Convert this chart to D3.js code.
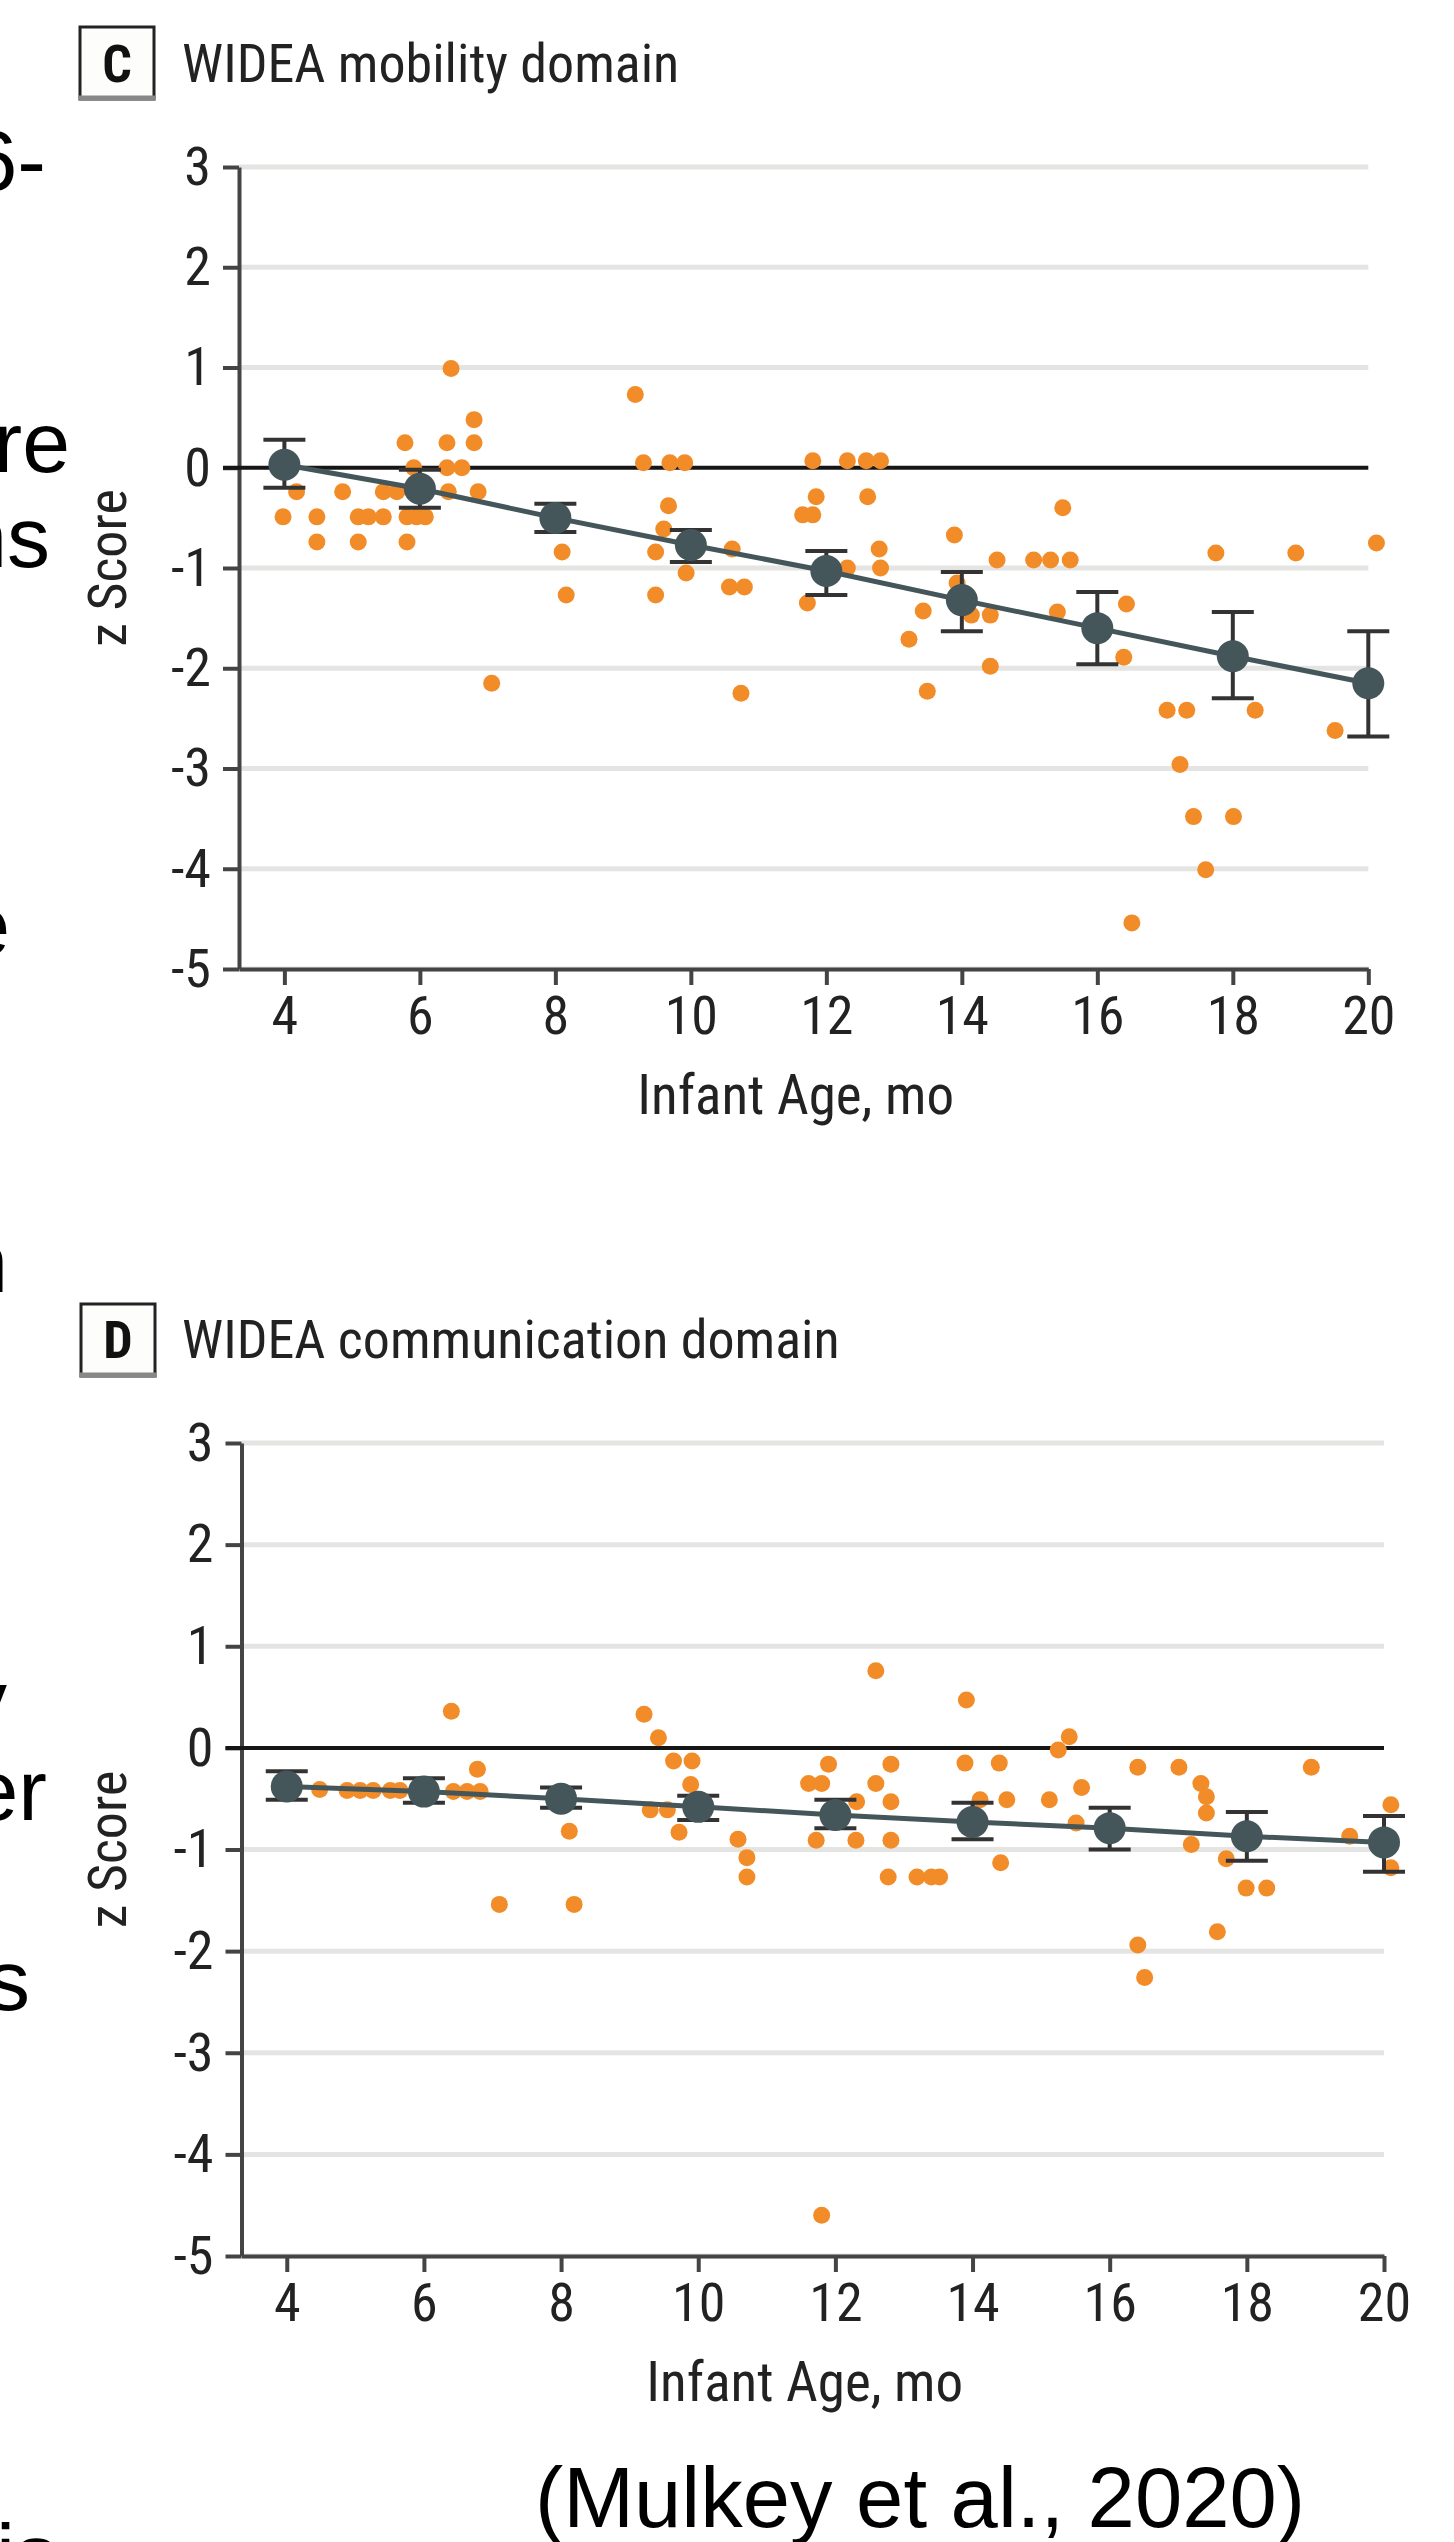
<!DOCTYPE html>
<html>
<head>
<meta charset="utf-8">
<script src="https://cdn.jsdelivr.net/npm/d3@7"></script>
<style>
  html, body { margin: 0; padding: 0; background: #fff; }
  svg { display: block; }
</style>
</head>
<body>
<svg id="chart" width="1454" height="2542"></svg>
<script>
// Tick values shared by both panels
const xTicks = [4, 6, 8, 10, 12, 14, 16, 18, 20];
const yTicks = [3, 2, 1, 0, -1, -2, -3, -4, -5];

// Model means with 95% CI at each age (months)
const meanAges = [4, 6, 8, 10, 12, 14, 16, 18, 20];
const mobilityMean = [0.03, -0.21, -0.50, -0.77, -1.03, -1.32, -1.60, -1.88, -2.15];
const mobilityLower = [-0.20, -0.40, -0.64, -0.94, -1.27, -1.63, -1.96, -2.30, -2.68];
const mobilityUpper = [0.28, -0.02, -0.36, -0.62, -0.83, -1.04, -1.24, -1.44, -1.63];
const communicationMean = [-0.38, -0.43, -0.50, -0.58, -0.66, -0.73, -0.79, -0.87, -0.93];
const communicationLower = [-0.51, -0.54, -0.59, -0.71, -0.79, -0.90, -1.00, -1.11, -1.22];
const communicationUpper = [-0.23, -0.30, -0.39, -0.47, -0.51, -0.54, -0.59, -0.63, -0.67];

// Individual infants: [age in months, z score]
const mobilityPoints = [
  [3.98, -0.49], [4.18, -0.24], [4.48, -0.49], [4.48, -0.74], [4.86, -0.24], [5.09, -0.49],
  [5.09, -0.74], [5.24, -0.49], [5.46, -0.49], [5.46, -0.24], [5.66, -0.24], [5.78, 0.25],
  [5.81, -0.49], [5.81, -0.74], [5.91, 0.0], [5.95, -0.49], [6.08, -0.49], [6.40, 0.25],
  [6.40, 0.0], [6.42, -0.24], [6.46, 0.99], [6.62, 0.0], [6.80, 0.48], [6.80, 0.25],
  [6.86, -0.24], [7.06, -2.15], [8.10, -0.84], [8.16, -1.27], [9.18, 0.73], [9.30, 0.05],
  [9.69, 0.05], [9.91, 0.05], [9.67, -0.38], [9.60, -0.61], [9.48, -0.84], [9.93, -1.05],
  [9.48, -1.27], [10.61, -0.81], [10.57, -1.19], [10.79, -1.19], [10.74, -2.25], [11.65, -0.47],
  [11.80, -0.47], [11.80, 0.07], [11.85, -0.29], [11.72, -1.35], [12.31, 0.07], [12.59, 0.07],
  [12.80, 0.07], [12.61, -0.29], [12.78, -0.81], [12.80, -1.0], [12.31, -1.0], [13.22, -1.71],
  [13.43, -1.43], [13.49, -2.23], [13.89, -0.67], [13.93, -1.15], [14.14, -1.47], [14.42, -1.47],
  [14.42, -1.98], [14.52, -0.92], [15.06, -0.92], [15.31, -0.92], [15.60, -0.92], [15.49, -0.40],
  [15.41, -1.44], [16.43, -1.36], [16.39, -1.89], [16.51, -4.54], [17.03, -2.42], [17.32, -2.42],
  [17.22, -2.96], [17.42, -3.48], [18.01, -3.48], [17.60, -4.01], [17.75, -0.85], [18.33, -2.42],
  [18.93, -0.85], [19.51, -2.62], [20.12, -0.75]
];
const communicationPoints = [
  [4.48, -0.41], [4.88, -0.42], [5.07, -0.42], [5.26, -0.42], [5.51, -0.42], [5.65, -0.42],
  [6.40, 0.36], [6.43, -0.43], [6.63, -0.43], [6.78, -0.21], [6.82, -0.43], [7.10, -1.54],
  [8.12, -0.82], [8.19, -1.54], [9.21, 0.33], [9.42, 0.10], [9.30, -0.61], [9.55, -0.61],
  [9.64, -0.13], [9.91, -0.13], [9.89, -0.36], [9.72, -0.83], [10.58, -0.90], [10.71, -1.08],
  [10.71, -1.27], [11.61, -0.35], [11.80, -0.35], [11.90, -0.16], [11.72, -0.91], [11.80, -4.60],
  [12.59, 0.76], [12.59, -0.35], [12.81, -0.16], [12.81, -0.53], [12.31, -0.53], [12.30, -0.91],
  [12.81, -0.91], [12.77, -1.27], [13.19, -1.27], [13.40, -1.27], [13.52, -1.27], [13.91, 0.47],
  [13.89, -0.15], [14.39, -0.15], [14.11, -0.51], [14.50, -0.51], [15.12, -0.51], [14.41, -1.13],
  [15.25, -0.02], [15.41, 0.11], [15.59, -0.39], [15.51, -0.74], [16.41, -0.19], [17.01, -0.19],
  [18.94, -0.19], [17.33, -0.35], [17.41, -0.48], [17.41, -0.64], [17.19, -0.95], [17.70, -1.09],
  [17.99, -1.38], [18.29, -1.38], [17.57, -1.81], [16.41, -1.94], [16.51, -2.26], [19.50, -0.87],
  [20.10, -0.56], [20.10, -1.18]
];

// Slide text cut off at the left edge, and the citation
const edgeFragments = ['6-', 're', 'ns', 'e', 'n', 'y', 'er', 's', 'is'];
const citation = '(Mulkey et al., 2020)';

const narrow = '"Liberation Sans Narrow", "Arial Narrow", "Roboto Condensed", sans-serif';
const orange = '#F28C28';
const slate = '#45565B';

const svg = d3.select('#chart');

// Left edge fragments (right edge x, baseline y)
const fragmentPos = [[46, 190], [70, 472], [50, 567], [10, 955], [8, 1292], [7, 1730], [47, 1820], [30, 2010], [58, 2584]];
svg.append('g')
    .selectAll('text')
    .data(edgeFragments)
    .enter()
    .append('text')
    .attr('x', (d, i) => fragmentPos[i][0])
    .attr('y', (d, i) => fragmentPos[i][1])
    .attr('text-anchor', 'end')
    .style('font-family', '"Liberation Sans", Arial, sans-serif')
    .style('font-size', '86px')
    .style('fill', '#000')
    .text(d => d);

svg.append('text')
    .attr('x', 920)
    .attr('y', 2527)
    .attr('text-anchor', 'middle')
    .style('font-family', '"Liberation Sans", Arial, sans-serif')
    .style('font-size', '85px')
    .style('fill', '#000')
    .text(citation);

const drawPanel = (p) => {
    const x = d3.scaleLinear().domain([p.xStart, 20]).range(p.xRange);
    const y = d3.scaleLinear().domain([-5, 3]).range(p.yRange);
    const g = svg.append('g');
    const left = p.xRange[0];
    const right = p.xRange[1];
    const bottom = p.yRange[0];

    // Panel letter box and title
    g.append('rect')
        .attr('x', p.box[0]).attr('y', p.box[1])
        .attr('width', 74).attr('height', 72)
        .attr('fill', '#fdfdfb')
        .attr('stroke', '#222')
        .attr('stroke-width', 3);
    g.append('line')
        .attr('x1', p.box[0] - 1.5).attr('x2', p.box[0] + 75.5)
        .attr('y1', p.box[1] + 71).attr('y2', p.box[1] + 71)
        .attr('stroke', '#888')
        .attr('stroke-width', 5);
    g.append('text')
        .attr('x', p.box[0] + 37)
        .attr('y', p.titleY)
        .attr('text-anchor', 'middle')
        .style('font-family', narrow)
        .style('font-size', '52px')
        .style('font-weight', 'bold')
        .style('fill', '#111')
        .text(p.letter);
    g.append('text')
        .attr('x', 182)
        .attr('y', p.titleY)
        .style('font-family', narrow)
        .style('font-size', '54px')
        .style('fill', '#222')
        .text(p.title);

    // Horizontal gridlines
    g.selectAll('.grid')
        .data(yTicks.filter(d => d !== 0))
        .enter()
        .append('line')
        .attr('class', 'grid')
        .attr('x1', left).attr('x2', right)
        .attr('y1', d => y(d)).attr('y2', d => y(d))
        .attr('stroke', '#e4e4e2')
        .attr('stroke-width', 5);

    // Axes
    const yAxis = g.append('g')
        .attr('transform', `translate(${left},0)`)
        .call(d3.axisLeft(y).tickValues(yTicks).tickSize(16).tickSizeOuter(0).tickPadding(12).tickFormat(d => String(d)));
    const xAxis = g.append('g')
        .attr('transform', `translate(0,${bottom})`)
        .call(d3.axisBottom(x).tickValues(xTicks).tickSize(16).tickSizeOuter(0).tickPadding(11).tickFormat(d => String(d)));
    [yAxis, xAxis].forEach(a => {
        a.attr('font-family', null).attr('font-size', null);
        a.selectAll('path').attr('stroke', '#444').attr('stroke-width', 4);
        a.selectAll('line').attr('stroke', '#444').attr('stroke-width', 4);
        a.selectAll('text')
            .style('font-family', narrow)
            .style('font-size', '54px')
            .style('fill', '#222');
    });

    // Reference line at z = 0
    g.append('line')
        .attr('x1', left - 16).attr('x2', right)
        .attr('y1', y(0)).attr('y2', y(0))
        .attr('stroke', '#161616')
        .attr('stroke-width', 4);

    // Axis titles
    g.append('text')
        .attr('x', (left + right) / 2 - 8)
        .attr('y', bottom + 145)
        .attr('text-anchor', 'middle')
        .style('font-family', narrow)
        .style('font-size', '55px')
        .style('fill', '#222')
        .text('Infant Age, mo');
    g.append('text')
        .attr('transform', `translate(126,${(p.yRange[0] + p.yRange[1]) / 2}) rotate(-90)`)
        .attr('text-anchor', 'middle')
        .style('font-family', narrow)
        .style('font-size', '54px')
        .style('fill', '#222')
        .text('z Score');

    // Individual scores
    g.selectAll('.pt')
        .data(p.points)
        .enter()
        .append('circle')
        .attr('class', 'pt')
        .attr('cx', d => x(d[0]))
        .attr('cy', d => y(d[1]))
        .attr('r', 8.5)
        .attr('fill', orange);

    // Fitted trajectory through the means
    const line = d3.line().x(d => x(d)).y((d, i) => y(p.mean[i]));
    g.append('path')
        .attr('d', line(meanAges))
        .attr('fill', 'none')
        .attr('stroke', slate)
        .attr('stroke-width', 5);

    // 95% CI error bars
    const bars = g.selectAll('.ci')
        .data(meanAges)
        .enter()
        .append('g')
        .attr('class', 'ci')
        .attr('stroke', '#333')
        .attr('stroke-width', 4);
    bars.append('line')
        .attr('x1', d => x(d)).attr('x2', d => x(d))
        .attr('y1', (d, i) => y(p.lower[i])).attr('y2', (d, i) => y(p.upper[i]));
    bars.append('line')
        .attr('x1', d => x(d) - 21).attr('x2', d => x(d) + 21)
        .attr('y1', (d, i) => y(p.lower[i])).attr('y2', (d, i) => y(p.lower[i]));
    bars.append('line')
        .attr('x1', d => x(d) - 21).attr('x2', d => x(d) + 21)
        .attr('y1', (d, i) => y(p.upper[i])).attr('y2', (d, i) => y(p.upper[i]));

    g.selectAll('.mean')
        .data(meanAges)
        .enter()
        .append('circle')
        .attr('class', 'mean')
        .attr('cx', d => x(d))
        .attr('cy', (d, i) => y(p.mean[i]))
        .attr('r', 16)
        .attr('fill', slate);
};

drawPanel({
    letter: 'C',
    title: 'WIDEA mobility domain',
    box: [80, 27],
    titleY: 82,
    xStart: 3.33,
    xRange: [239, 1368.3],
    yRange: [969, 167],
    points: mobilityPoints,
    mean: mobilityMean,
    lower: mobilityLower,
    upper: mobilityUpper
});

drawPanel({
    letter: 'D',
    title: 'WIDEA communication domain',
    box: [81, 1304],
    titleY: 1358,
    xStart: 3.34,
    xRange: [241.5, 1384],
    yRange: [2256, 1443],
    points: communicationPoints,
    mean: communicationMean,
    lower: communicationLower,
    upper: communicationUpper
});
</script>
</body>
</html>
